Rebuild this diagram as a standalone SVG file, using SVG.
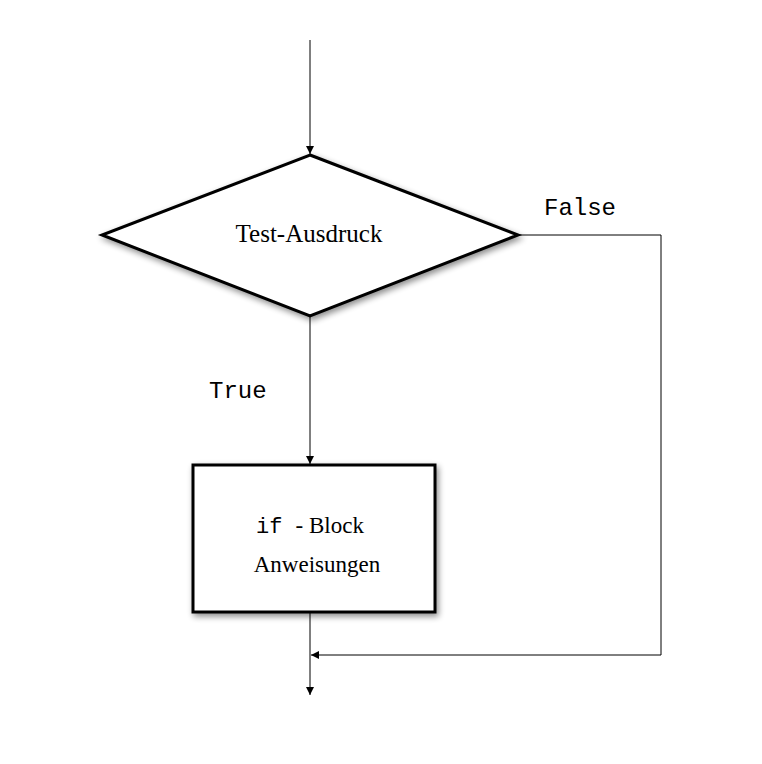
<svg xmlns="http://www.w3.org/2000/svg" width="762" height="764" viewBox="0 0 762 764">
<style>
.shape{fill:#fff;stroke:#000;stroke-width:3;filter:url(#sh)}
.conn{fill:none;stroke:#000;stroke-width:1}
.serif{font-family:"Liberation Serif","Times New Roman",serif;font-size:23px;fill:#000}
.mono{font-family:"Liberation Mono","Courier New",monospace;font-size:24px;fill:#000}
</style>
<defs>
<filter id="sh" x="-10%" y="-10%" width="125%" height="130%">
<feGaussianBlur in="SourceAlpha" stdDeviation="3"/>
<feOffset dx="2" dy="3" result="b"/>
<feComponentTransfer><feFuncA type="linear" slope="0.45"/></feComponentTransfer>
<feMerge><feMergeNode/><feMergeNode in="SourceGraphic"/></feMerge>
</filter>
<marker id="arr" viewBox="0 0 10 10" refX="10" refY="5" markerWidth="8" markerHeight="8" markerUnits="userSpaceOnUse" orient="auto">
<path d="M0,0 L10,5 L0,10 z" fill="#000"/>
</marker>
</defs>
<rect width="762" height="764" fill="#fff"/>
<g id="connectors">
<line class="conn" x1="310" y1="40" x2="310" y2="154" marker-end="url(#arr)"/>
<line class="conn" x1="310" y1="316" x2="310" y2="464" marker-end="url(#arr)"/>
<line class="conn" x1="310" y1="613" x2="310" y2="695" marker-end="url(#arr)"/>
<polyline class="conn" points="518,235 661,235 661,655 311,655" marker-end="url(#arr)"/>
<text class="mono" x="544" y="215">False</text>
<text class="mono" x="209" y="398">True</text>
</g>
<g id="test">
<polygon class="shape" points="310,155 518,235 310,316 102,235"/>
<text class="serif" x="309" y="242" text-anchor="middle" style="font-size:25px">Test-Ausdruck</text>
</g>
<g id="ifblock">
<rect class="shape" x="193" y="465" width="242" height="147"/>
<text class="serif" x="256" y="533"><tspan font-family="Liberation Mono, monospace" font-size="22">if </tspan><tspan> - Block</tspan></text>
<text class="serif" x="317" y="572" text-anchor="middle">Anweisungen</text>
</g>
</svg>
